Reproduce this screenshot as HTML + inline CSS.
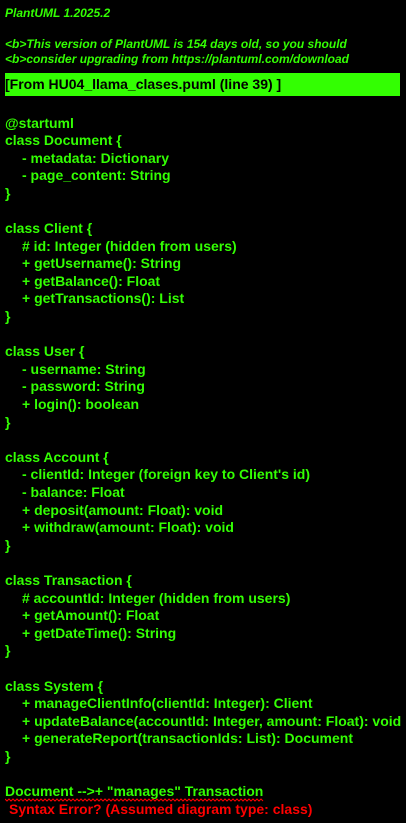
<!DOCTYPE html>
<html><head><style>
html,body{margin:0;padding:0;background:#000;width:406px;height:823px;overflow:hidden}
body{position:relative;font-family:"Liberation Sans",sans-serif;}
.l{position:absolute;white-space:pre;color:#33ff02;font-weight:bold;font-size:14px;line-height:17px;left:5px}
.i{font-style:italic;font-size:12px}
.m{left:22px}
</style></head><body>
<div class="l i" style="top:5px">PlantUML 1.2025.2</div>
<div class="l i" style="top:36px">&lt;b&gt;This version of PlantUML is 154 days old, so you should</div>
<div class="l i" style="top:51px">&lt;b&gt;consider upgrading from https://plantuml.com/download</div>
<div style="position:absolute;left:5px;top:73px;width:395px;height:23px;background:#33ff02"></div>
<div class="l" style="top:76px;color:#000">[From HU04_llama_clases.puml (line 39) ]</div>
<div class="l" style="top:115px">@startuml</div>
<div class="l" style="top:132px">class Document {</div>
<div class="l m" style="top:150px">- metadata: Dictionary</div>
<div class="l m" style="top:167px">- page_content: String</div>
<div class="l" style="top:185px">}</div>
<div class="l" style="top:220px">class Client {</div>
<div class="l m" style="top:238px"># id: Integer (hidden from users)</div>
<div class="l m" style="top:255px">+ getUsername(): String</div>
<div class="l m" style="top:273px">+ getBalance(): Float</div>
<div class="l m" style="top:290px">+ getTransactions(): List</div>
<div class="l" style="top:308px">}</div>
<div class="l" style="top:343px">class User {</div>
<div class="l m" style="top:361px">- username: String</div>
<div class="l m" style="top:378px">- password: String</div>
<div class="l m" style="top:396px">+ login(): boolean</div>
<div class="l" style="top:414px">}</div>
<div class="l" style="top:449px">class Account {</div>
<div class="l m" style="top:466px">- clientId: Integer (foreign key to Client's id)</div>
<div class="l m" style="top:484px">- balance: Float</div>
<div class="l m" style="top:502px">+ deposit(amount: Float): void</div>
<div class="l m" style="top:519px">+ withdraw(amount: Float): void</div>
<div class="l" style="top:537px">}</div>
<div class="l" style="top:572px">class Transaction {</div>
<div class="l m" style="top:590px"># accountId: Integer (hidden from users)</div>
<div class="l m" style="top:607px">+ getAmount(): Float</div>
<div class="l m" style="top:625px">+ getDateTime(): String</div>
<div class="l" style="top:642px">}</div>
<div class="l" style="top:678px">class System {</div>
<div class="l m" style="top:695px">+ manageClientInfo(clientId: Integer): Client</div>
<div class="l m" style="top:713px">+ updateBalance(accountId: Integer, amount: Float): void</div>
<div class="l m" style="top:730px">+ generateReport(transactionIds: List): Document</div>
<div class="l" style="top:748px">}</div>
<div class="l" style="top:783px">Document --&gt;+ "manages" Transaction</div>
<svg style="position:absolute;left:5px;top:798px" width="260" height="4"><path d="M0 1 L2 3 L4 1 L6 3 L8 1 L10 3 L12 1 L14 3 L16 1 L18 3 L20 1 L22 3 L24 1 L26 3 L28 1 L30 3 L32 1 L34 3 L36 1 L38 3 L40 1 L42 3 L44 1 L46 3 L48 1 L50 3 L52 1 L54 3 L56 1 L58 3 L60 1 L62 3 L64 1 L66 3 L68 1 L70 3 L72 1 L74 3 L76 1 L78 3 L80 1 L82 3 L84 1 L86 3 L88 1 L90 3 L92 1 L94 3 L96 1 L98 3 L100 1 L102 3 L104 1 L106 3 L108 1 L110 3 L112 1 L114 3 L116 1 L118 3 L120 1 L122 3 L124 1 L126 3 L128 1 L130 3 L132 1 L134 3 L136 1 L138 3 L140 1 L142 3 L144 1 L146 3 L148 1 L150 3 L152 1 L154 3 L156 1 L158 3 L160 1 L162 3 L164 1 L166 3 L168 1 L170 3 L172 1 L174 3 L176 1 L178 3 L180 1 L182 3 L184 1 L186 3 L188 1 L190 3 L192 1 L194 3 L196 1 L198 3 L200 1 L202 3 L204 1 L206 3 L208 1 L210 3 L212 1 L214 3 L216 1 L218 3 L220 1 L222 3 L224 1 L226 3 L228 1 L230 3 L232 1 L234 3 L236 1 L238 3 L240 1 L242 3 L244 1 L246 3 L248 1 L250 3 L252 1 L254 3 L256 1 L258 3" fill="none" stroke="#ff0000" stroke-width="1"/></svg>
<div class="l" style="top:801px;left:9px;color:#ff0000">Syntax Error? (Assumed diagram type: class)</div>
</body></html>
